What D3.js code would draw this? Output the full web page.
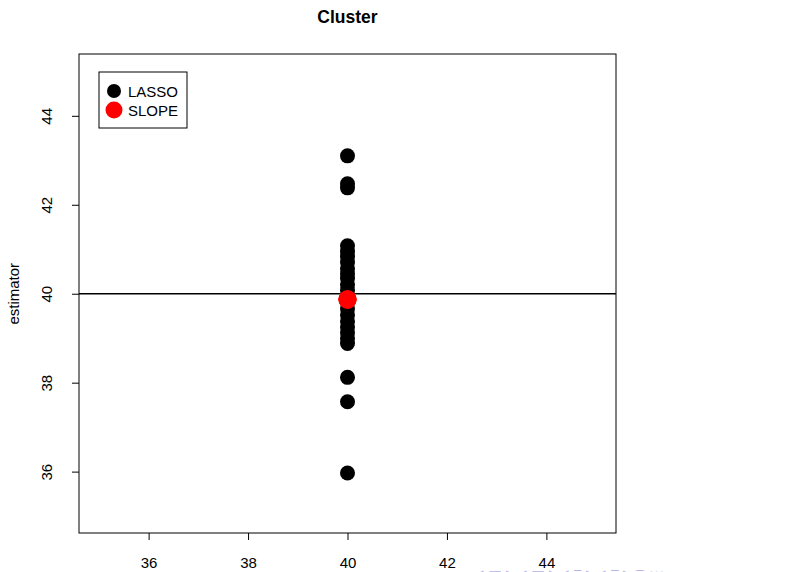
<!DOCTYPE html>
<html>
<head>
<meta charset="utf-8">
<script src="https://cdn.jsdelivr.net/npm/d3@7"></script>
<style>
  body { margin: 0; background: #fff; }
  svg { display: block; font-family: "Liberation Sans", Arial, sans-serif; }
</style>
</head>
<body>
<div id="chart"></div>
<script>
// data: every estimate sits at x = 40
const trueValue = 40;
const lassoEst = [43.1, 42.47, 42.38, 41.08, 40.95, 40.83, 40.7, 40.56, 40.45, 40.34,
                  40.2, 40.08, 39.95, 39.8, 39.66, 39.52, 39.38, 39.25, 39.12, 39.0,
                  38.88, 38.12, 37.57, 35.97];
const slopeEst = [39.87, 39.87, 39.88, 39.86];
const xTicks = [36, 38, 40, 42, 44];
const yTicks = [36, 38, 40, 42, 44];
const legendLabels = ["LASSO", "SLOPE"];

const width = 806, height = 572;
const margin = {top: 54, right: 190, bottom: 39, left: 79};

const svg = d3.select("#chart").append("svg")
    .attr("width", width)
    .attr("height", height);

const x = d3.scaleLinear()
    .domain([34.6, 45.4])
    .range([margin.left, width - margin.right]);

const y = d3.scaleLinear()
    .domain([34.62, 45.39])
    .range([height - margin.bottom, margin.top]);

// axes, R style: no domain line, ticks outside
const xAxis = g => g
    .attr("transform", `translate(0,${height - margin.bottom})`)
    .call(d3.axisBottom(x).tickValues(xTicks).tickSize(7).tickPadding(17).tickFormat(d3.format("d")))
    .call(g => g.select(".domain").remove())
    .call(g => g.selectAll("text").style("font-size", "15px").attr("fill", "#000"))
    .call(g => g.selectAll("line").attr("stroke", "#000"));

const yAxis = g => g
    .attr("transform", `translate(${margin.left},0)`)
    .call(d3.axisLeft(y).tickValues(yTicks).tickSize(7).tickFormat(d3.format("d")))
    .call(g => g.select(".domain").remove())
    .call(g => g.selectAll("line").attr("stroke", "#000"))
    .call(g => g.selectAll("text")
        .style("font-size", "15px")
        .attr("fill", "#000")
        .attr("x", null).attr("dy", null)
        .attr("text-anchor", "middle")
        .attr("transform", "translate(-27,0) rotate(-90)"));

svg.append("g").call(xAxis);
svg.append("g").call(yAxis);

// reference line at the true value
svg.append("line")
    .attr("x1", margin.left).attr("x2", width - margin.right)
    .attr("y1", y(trueValue)).attr("y2", y(trueValue))
    .attr("stroke", "#000")
    .attr("stroke-width", 1.6);

svg.append("g")
    .selectAll("circle")
    .data(lassoEst)
    .enter().append("circle")
      .attr("cx", x(trueValue))
      .attr("cy", d => y(d))
      .attr("r", 7.5)
      .attr("fill", "#000");

svg.append("g")
    .selectAll("circle")
    .data(slopeEst)
    .enter().append("circle")
      .attr("cx", x(trueValue))
      .attr("cy", d => y(d))
      .attr("r", 9)
      .attr("fill", "#ff0000");

// plot box
svg.append("rect")
    .attr("x", margin.left)
    .attr("y", margin.top)
    .attr("width", width - margin.left - margin.right)
    .attr("height", height - margin.top - margin.bottom)
    .attr("fill", "none")
    .attr("stroke", "#000")
    .attr("stroke-width", 1);

// title and axis label
svg.append("text")
    .attr("x", (margin.left + width - margin.right) / 2)
    .attr("y", 23)
    .attr("text-anchor", "middle")
    .style("font-size", "17.5px")
    .style("font-weight", "bold")
    .text("Cluster");

svg.append("text")
    .attr("transform", `translate(19,${y(trueValue)}) rotate(-90)`)
    .attr("text-anchor", "middle")
    .style("font-size", "15px")
    .text("estimator");

// legend
const legend = svg.append("g").attr("transform", "translate(99,72)");
legend.append("rect")
    .attr("width", 88).attr("height", 56)
    .attr("fill", "#fff").attr("stroke", "#000");
legend.selectAll("circle")
    .data(legendLabels)
    .enter().append("circle")
      .attr("cx", 15)
      .attr("cy", (d, i) => 19 + i * 19)
      .attr("r", (d, i) => i ? 8.5 : 7)
      .attr("fill", (d, i) => i ? "#ff0000" : "#000");
legend.selectAll("text")
    .data(legendLabels)
    .enter().append("text")
      .attr("x", 29)
      .attr("y", (d, i) => 24.5 + i * 19)
      .style("font-size", "15px")
      .text(d => d);

// faint beamer navigation symbols, cut off at the bottom
svg.append("text")
    .attr("x", 476)
    .attr("y", 578)
    .attr("fill", "#b4b4e6")
    .style("font-size", "15px")
    .text("◂ ▭ ▸ ◂ ▭ ▸ ◂ ≡ ▸ ◂ ≡ ▸   ≡  ◦◦◦");
</script>
</body>
</html>
